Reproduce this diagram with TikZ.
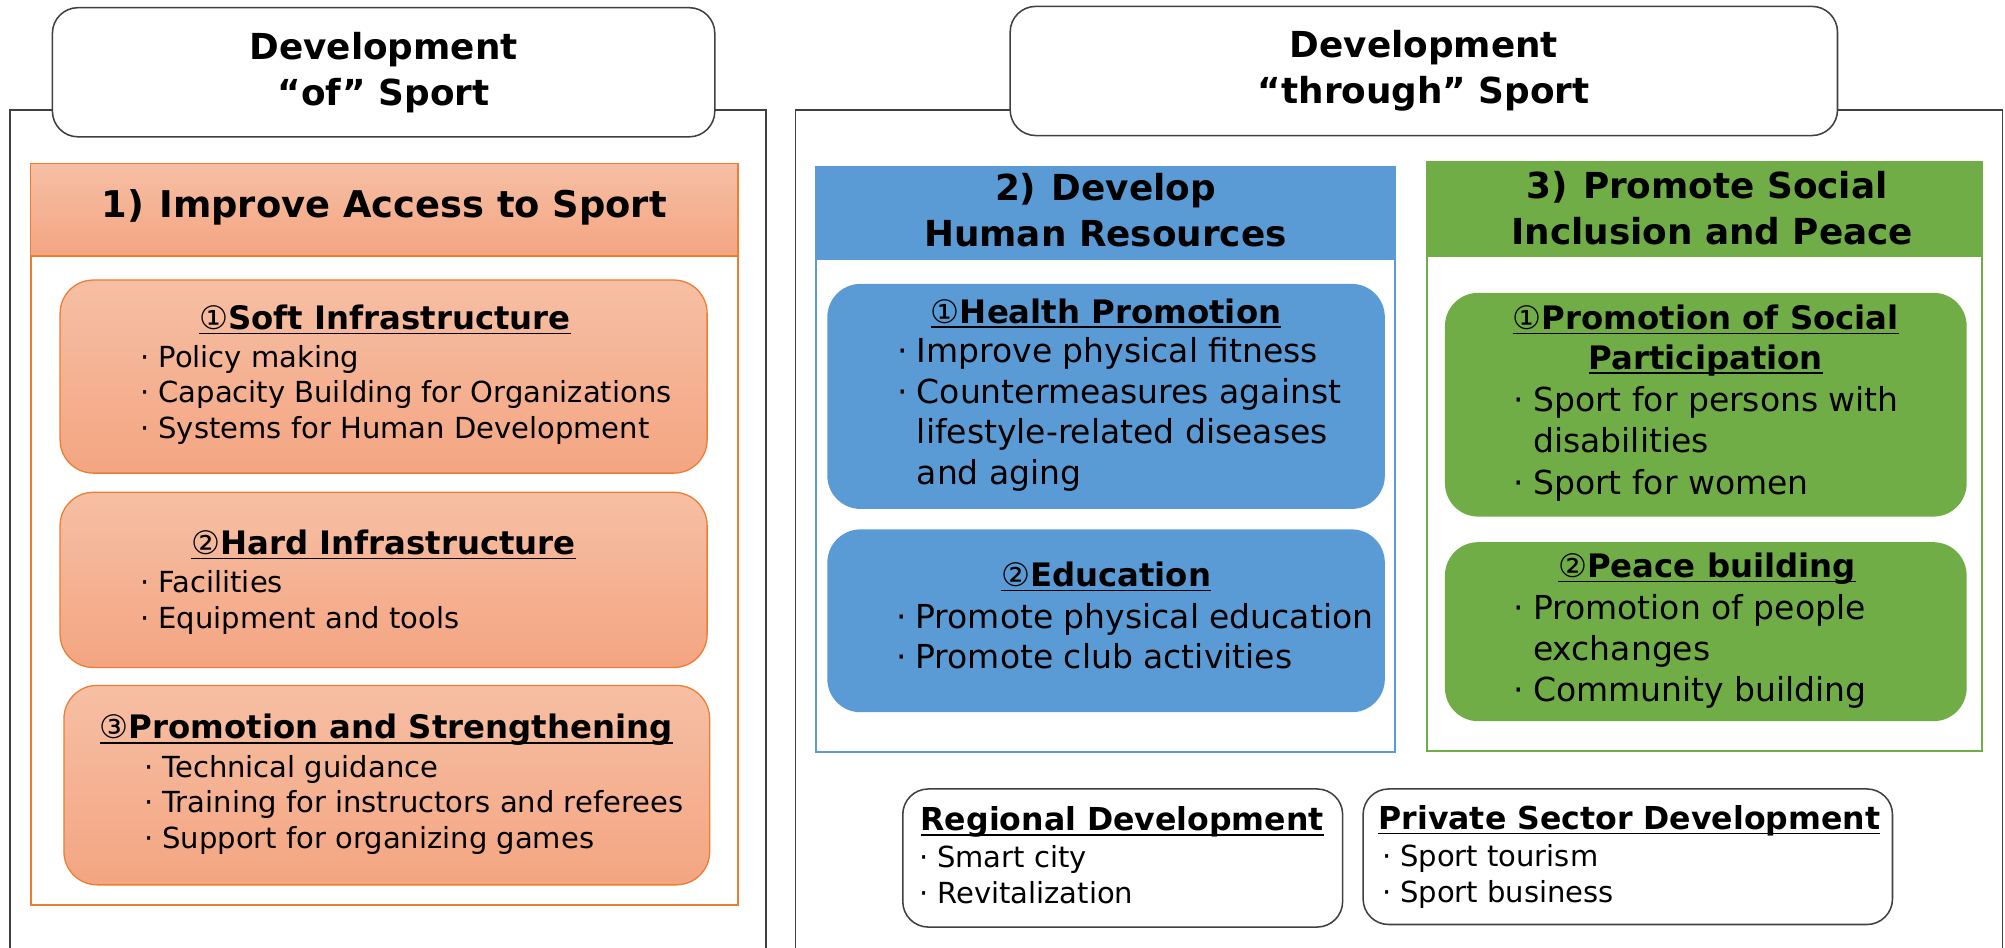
\documentclass[tikz,border=0pt]{standalone}
\usepackage{fontspec}
\setmainfont{DejaVu Sans}
\definecolor{orB}{HTML}{ED7D31}
\definecolor{orT}{HTML}{F6BFA4}
\definecolor{orBot}{HTML}{F4A582}
\definecolor{blueF}{HTML}{5B9BD5}
\definecolor{greenF}{HTML}{70AD47}
\definecolor{lineK}{HTML}{404040}
\newcommand\bul{\makebox[0pt][r]{·\hspace{7pt}}}
\newcommand\cir[1]{{\mdseries #1}}
\newcommand\myul[1]{\setbox0\hbox{#1}\rlap{\rule[-3.8pt]{\wd0}{1.3pt}}\box0}
\begin{document}
\begin{tikzpicture}[x=1pt,y=-1pt,
  every node/.style={inner sep=0pt, outer sep=0pt},
  outer/.style={draw=lineK, line width=1.2pt},
  ttl/.style={draw=lineK, line width=1.2pt, fill=white, rounded corners=20pt, align=center, font=\bfseries\fontsize{28}{36}\selectfont},
  hdrO/.style={draw=orB, line width=1.2pt, top color=orT, bottom color=orBot},
  frameO/.style={draw=orB, line width=1.8pt, fill=white},
  subO/.style={draw=orB, line width=1pt, top color=orT, bottom color=orBot, rounded corners=26pt},
  hdrB/.style={draw=blueF, fill=blueF, line width=1.2pt},
  frameB/.style={draw=blueF, line width=1.6pt, fill=white},
  subB/.style={fill=blueF, rounded corners=26pt},
  hdrG/.style={draw=greenF, fill=greenF, line width=1.2pt},
  frameG/.style={draw=greenF, line width=1.6pt, fill=white},
  subG/.style={fill=greenF, rounded corners=26pt},
  wbox/.style={draw=lineK, line width=1.2pt, fill=white, rounded corners=20pt},
  hd/.style={font=\bfseries\fontsize{28}{36}\selectfont, align=center},
  st/.style={font=\bfseries\fontsize{25.3}{31}\selectfont, anchor=mid, yshift=-6pt},
  wst/.style={font=\bfseries\fontsize{24.7}{31}\selectfont, anchor=mid west, yshift=-6pt},
  bt/.style={font=\fontsize{22.7}{28}\selectfont, anchor=mid west, yshift=-6pt},
  btl/.style={font=\fontsize{25.8}{31}\selectfont, anchor=mid west, yshift=-6pt}
]
\useasboundingbox (0,0) rectangle (1568,741);
% outer frames
\coordinate (l0) at (8,750); \coordinate (l1) at (8,86); \coordinate (l2) at (599,86); \coordinate (l3) at (599,750);
\coordinate (r0) at (622,750); \coordinate (r1) at (622,86); \coordinate (r2) at (1566,86); \coordinate (r3) at (1566,750);
\draw[outer] (l0) -- (l1) -- (l2) -- (l3);
\draw[outer] (r0) -- (r1) -- (r2) -- (r3);
% title boxes
\node[ttl, minimum width=518pt, minimum height=101pt] (t1) at (300,56.5) {Development\\“of” Sport};
\node[ttl, minimum width=647pt, minimum height=101pt] (t2) at (1113.5,55.5) {Development\\“through” Sport};

% ---------- orange column
\node[frameO, minimum width=553pt, minimum height=580pt] (fo) at (300.5,418) {};
\node[hdrO, minimum width=553pt, minimum height=72pt] (ho) at (300.5,164) {};
\node[hd, font=\bfseries\fontsize{28.8}{36}\selectfont, anchor=mid, yshift=-7pt] (hot) at (300.5,160) {1)\hspace{12pt}Improve Access to Sport};

\node[subO, minimum width=506pt, minimum height=151pt] (so1) at (300,294.5) {};
\node[subO, minimum width=506pt, minimum height=137pt] (so2) at (300,453.5) {};
\node[subO, minimum width=505pt, minimum height=156pt] (so3) at (302.5,614) {};

\node[st] (so1t) at (301,249) {\myul{\cir{①}Soft Infrastructure}};
\node[bt] (so1a) at (124,279) {\bul Policy making};
\node[bt] (so1b) at (124,306) {\bul Capacity Building for Organizations};
\node[bt] (so1c) at (124,334) {\bul Systems for Human Development};

\node[st] (so2t) at (300,425) {\myul{\cir{②}Hard Infrastructure}};
\node[bt] (so2a) at (124,455) {\bul Facilities};
\node[bt] (so2b) at (124,483) {\bul Equipment and tools};

\node[st] (so3t) at (302,569) {\myul{\cir{③}Promotion and Strengthening}};
\node[bt] (so3a) at (127,599) {\bul Technical guidance};
\node[bt] (so3b) at (127,627) {\bul Training for instructors and referees};
\node[bt] (so3c) at (127,655) {\bul Support for organizing games};

% ---------- blue column
\node[frameB, minimum width=453pt, minimum height=457pt] (fb) at (864.5,359.5) {};
\node[hdrB, minimum width=453pt, minimum height=72pt] (hb) at (864.5,167) {};
\node[hd] (hbt) at (864.5,164) {2)\hspace{12pt}Develop\\Human Resources};

\node[subB, minimum width=436pt, minimum height=176pt] (sb1) at (865,310) {};
\node[subB, minimum width=436pt, minimum height=143pt] (sb2) at (865,485.5) {};

\node[st] (sb1t) at (865,244) {\myul{\cir{①}Health Promotion}};
\node[btl] (sb1a) at (717,275) {\bul Improve physical fitness};
\node[btl] (sb1b) at (717,307) {\bul Countermeasures against};
\node[btl] (sb1c) at (717,338) {lifestyle-related diseases};
\node[btl] (sb1d) at (717,370) {and aging};

\node[st] (sb2t) at (865,450) {\myul{\cir{②}Education}};
\node[btl] (sb2a) at (716,483) {\bul Promote physical education};
\node[btl] (sb2b) at (716,514) {\bul Promote club activities};

% ---------- green column
\node[frameG, minimum width=434pt, minimum height=460pt] (fg) at (1333,357) {};
\node[hdrG, minimum width=434pt, minimum height=73pt] (hg) at (1333,163.5) {};
\node[hd] (hgt) at (1335,163) {3)\hspace{12pt}Promote Social\\\hspace{8pt}Inclusion and Peace};

\node[subG, minimum width=408pt, minimum height=175pt] (sg1) at (1334,316.5) {};
\node[subG, minimum width=408pt, minimum height=140pt] (sg2) at (1334,494) {};

\node[st] (sg1t) at (1334,249) {\myul{\cir{①}Promotion of Social}};
\node[st] (sg1u) at (1334,280) {\myul{Participation}};
\node[btl] (sg1a) at (1199,313) {\bul Sport for persons with};
\node[btl] (sg1b) at (1199,345) {disabilities};
\node[btl] (sg1c) at (1199,378) {\bul Sport for women};

\node[st] (sg2t) at (1335,443) {\myul{\cir{②}Peace building}};
\node[btl] (sg2a) at (1199,476) {\bul Promotion of people};
\node[btl] (sg2b) at (1199,508) {exchanges};
\node[btl] (sg2c) at (1199,540) {\bul Community building};

% ---------- bottom boxes
\node[wbox, minimum width=344pt, minimum height=108pt] (rg) at (878,671) {};
\node[wbox, minimum width=414pt, minimum height=106pt] (pv) at (1273,670) {};

\node[wst] (rgt) at (720,641) {\myul{Regional Development}};
\node[bt] (rga) at (733,670) {\bul Smart city};
\node[bt] (rgb) at (733,698) {\bul Revitalization};

\node[wst] (pvt) at (1078,640) {\myul{Private Sector Development}};
\node[bt] (pva) at (1095,669) {\bul Sport tourism};
\node[bt] (pvb) at (1095,697) {\bul Sport business};
\end{tikzpicture}
\end{document}
